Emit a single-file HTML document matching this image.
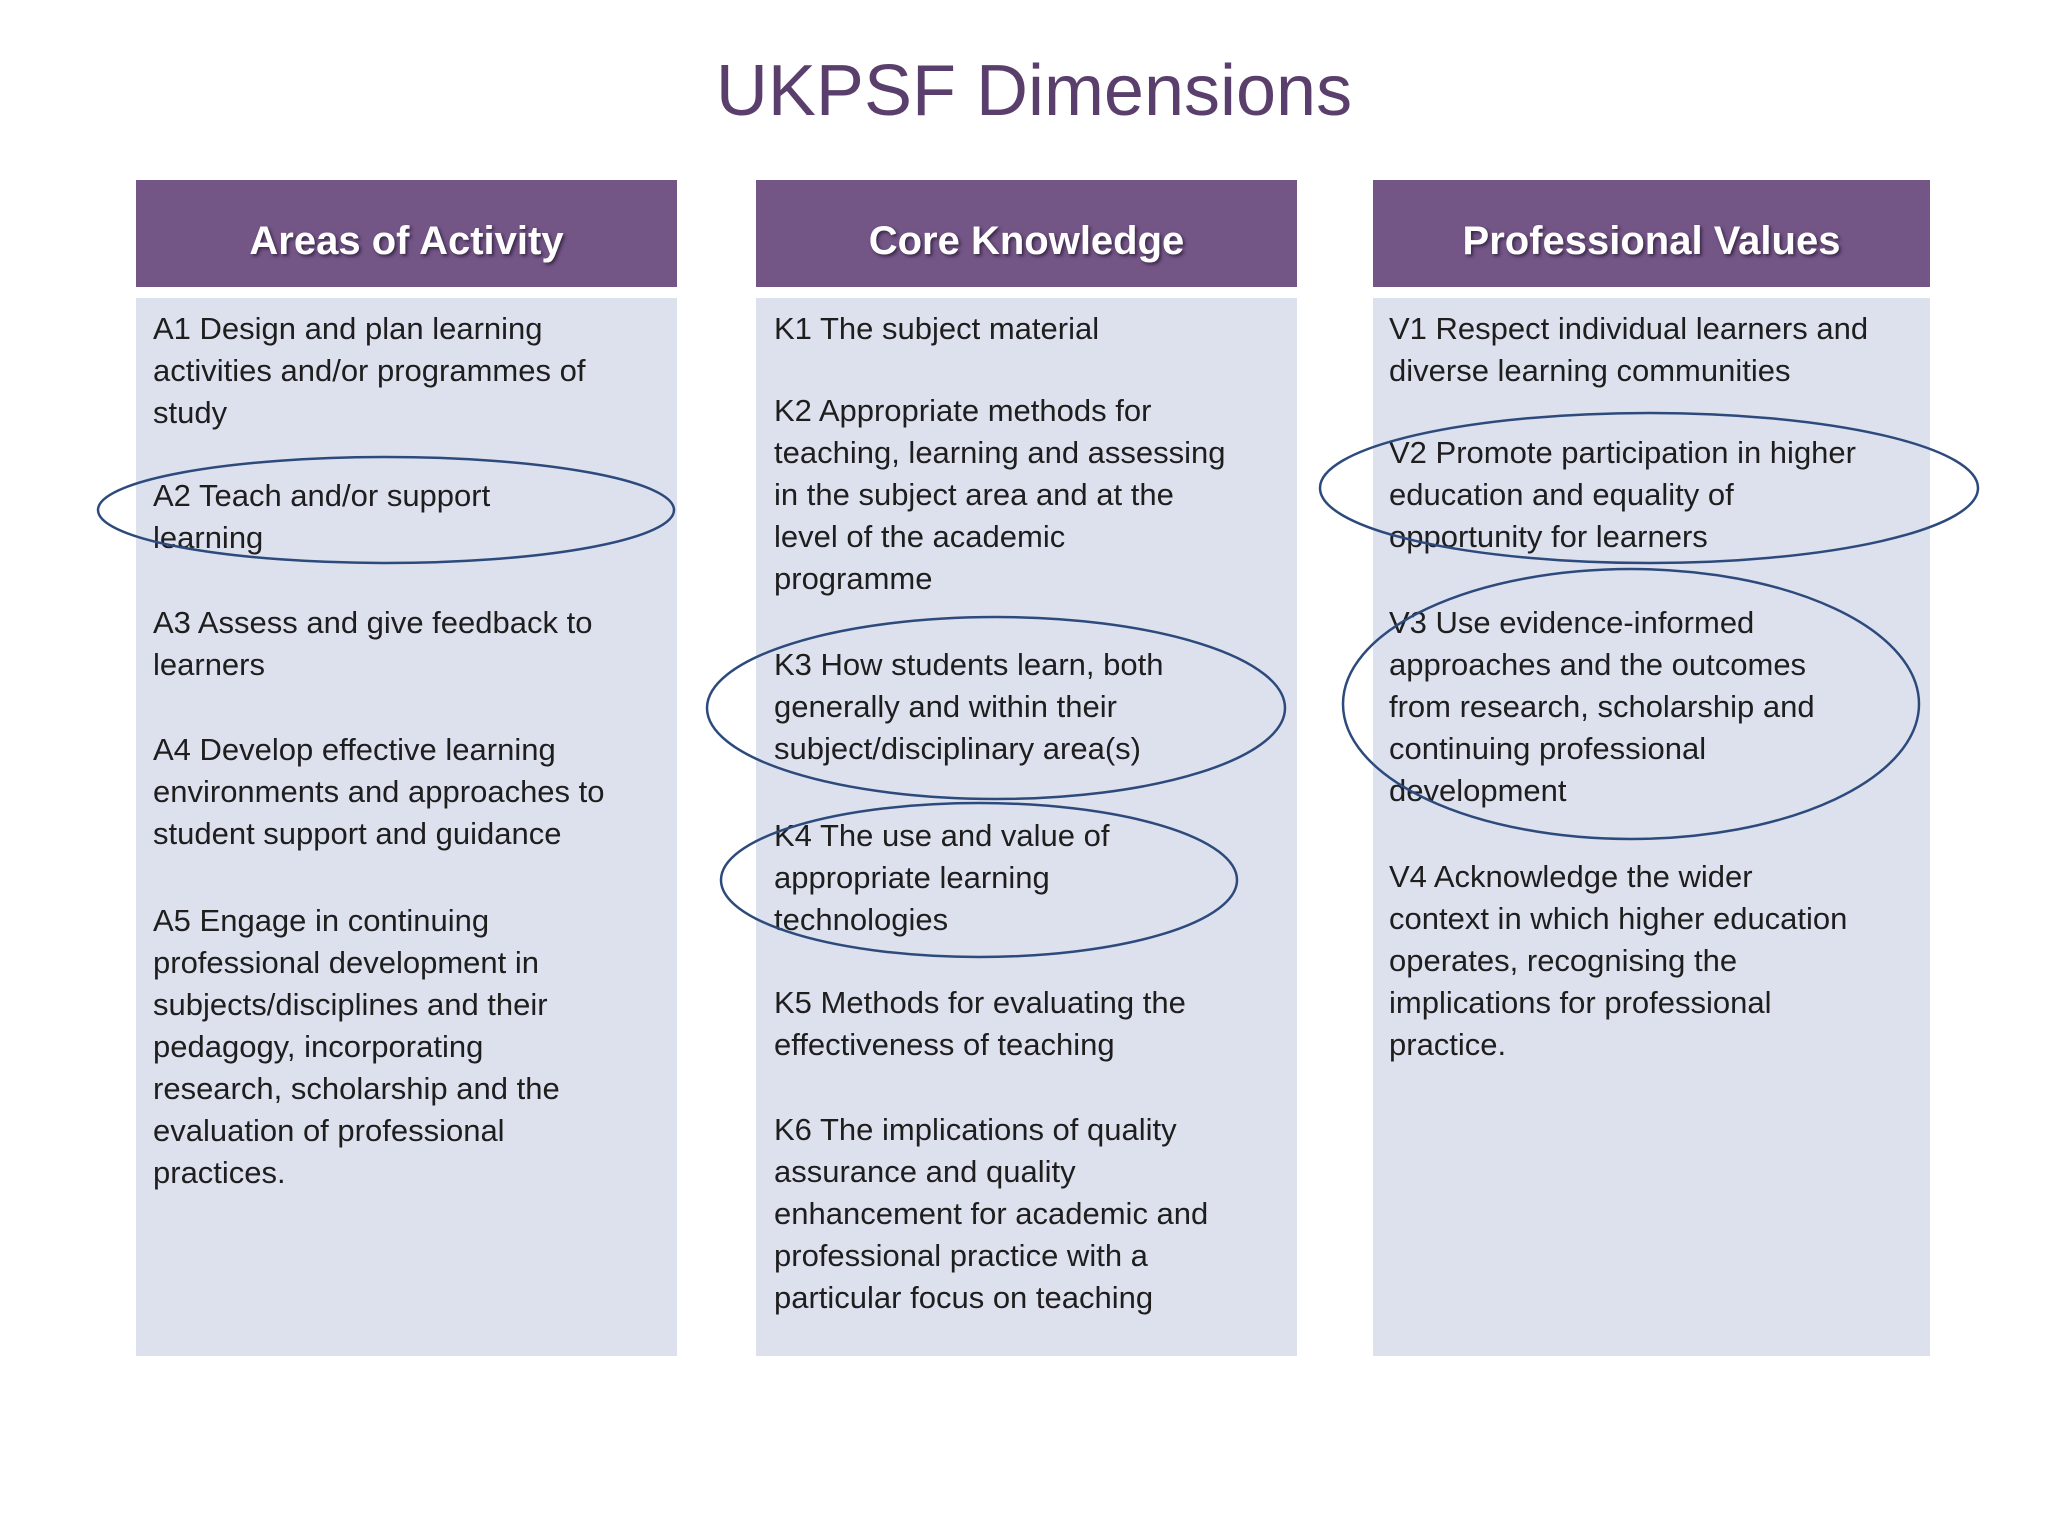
<!DOCTYPE html>
<html><head><meta charset="utf-8"><style>
body{margin:0;width:2048px;height:1536px;background:#fff;position:relative;overflow:hidden;font-family:"Liberation Sans",sans-serif;}
.t{position:absolute;left:0;width:2068px;text-align:center;top:50px;font-size:72px;color:#5a3f6d;}
.h{position:absolute;top:180px;height:99px;padding-top:8px;background:#735586;color:#fff;font-weight:bold;font-size:40px;text-align:center;line-height:107px;text-shadow:2px 2px 3px #3a2848;}
.b{position:absolute;top:298px;height:1058px;background:#dde1ee;}
.i{position:absolute;font-size:31px;line-height:42px;color:#1e1e1e;}
svg{position:absolute;left:0;top:0}
</style></head><body>
<div class="t">UKPSF Dimensions</div>
<div class="h" style="left:136px;width:541px">Areas of Activity</div>
<div class="h" style="left:756px;width:541px">Core Knowledge</div>
<div class="h" style="left:1373px;width:557px">Professional Values</div>
<div class="b" style="left:136px;width:541px"></div>
<div class="b" style="left:756px;width:541px"></div>
<div class="b" style="left:1373px;width:557px"></div>

<div class="i" style="left:153px;top:308px;width:520px">A1 Design and plan learning<br>activities and/or programmes of<br>study</div>
<div class="i" style="left:153px;top:475px">A2 Teach and/or support<br>learning</div>
<div class="i" style="left:153px;top:602px">A3 Assess and give feedback to<br>learners</div>
<div class="i" style="left:153px;top:729px">A4 Develop effective learning<br>environments and approaches to<br>student support and guidance</div>
<div class="i" style="left:153px;top:900px">A5 Engage in continuing<br>professional development in<br>subjects/disciplines and their<br>pedagogy, incorporating<br>research, scholarship and the<br>evaluation of professional<br>practices.</div>

<div class="i" style="left:774px;top:308px">K1 The subject material</div>
<div class="i" style="left:774px;top:390px">K2 Appropriate methods for<br>teaching, learning and assessing<br>in the subject area and at the<br>level of the academic<br>programme</div>
<div class="i" style="left:774px;top:644px">K3 How students learn, both<br>generally and within their<br>subject/disciplinary area(s)</div>
<div class="i" style="left:774px;top:815px">K4 The use and value of<br>appropriate learning<br>technologies</div>
<div class="i" style="left:774px;top:982px">K5 Methods for evaluating the<br>effectiveness of teaching</div>
<div class="i" style="left:774px;top:1109px">K6 The implications of quality<br>assurance and quality<br>enhancement for academic and<br>professional practice with a<br>particular focus on teaching</div>

<div class="i" style="left:1389px;top:308px">V1 Respect individual learners and<br>diverse learning communities</div>
<div class="i" style="left:1389px;top:432px">V2 Promote participation in higher<br>education and equality of<br>opportunity for learners</div>
<div class="i" style="left:1389px;top:602px">V3 Use evidence-informed<br>approaches and the outcomes<br>from research, scholarship and<br>continuing professional<br>development</div>
<div class="i" style="left:1389px;top:856px">V4 Acknowledge the wider<br>context in which higher education<br>operates, recognising the<br>implications for professional<br>practice.</div>

<svg width="2048" height="1536" fill="none" stroke="#2d4a7c" stroke-width="2.5">
<ellipse cx="386" cy="510" rx="288" ry="53"/>
<ellipse cx="996" cy="708" rx="289" ry="91"/>
<ellipse cx="979" cy="880" rx="258" ry="77"/>
<ellipse cx="1649" cy="488" rx="329" ry="75"/>
<ellipse cx="1631" cy="704" rx="288" ry="135"/>
</svg>
</body></html>
